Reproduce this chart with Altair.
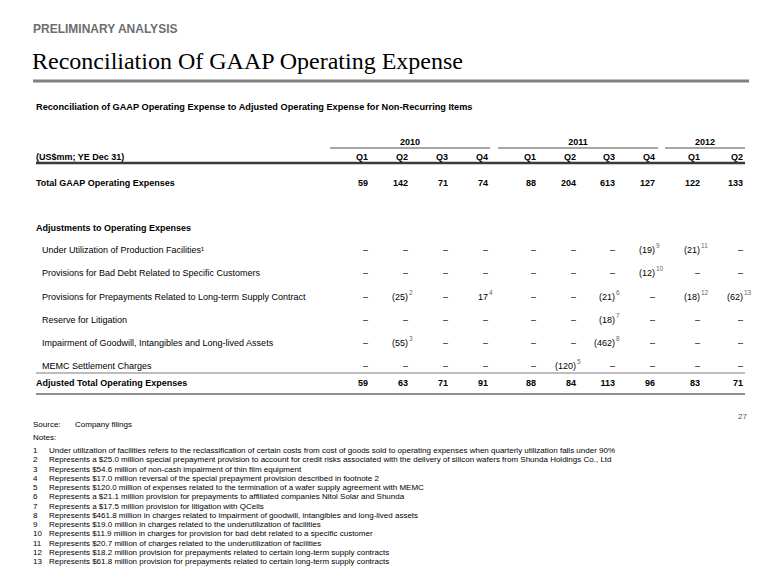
import altair as alt
import pandas as pd

# ---------------- data ----------------
years = ["2010", "2011", "2012"]
quarters = ["Q1", "Q2", "Q3", "Q4", "Q1", "Q2", "Q3", "Q4", "Q1", "Q2"]
total_gaap = [59, 142, 71, 74, 88, 204, 613, 127, 122, 133]
adjusted_total = [59, 63, 71, 91, 88, 84, 113, 96, 83, 71]

adj_labels = [
    "Under Utilization of Production Facilities\u00b9",
    "Provisions for Bad Debt Related to Specific Customers",
    "Provisions for Prepayments Related to Long-term Supply Contract",
    "Reserve for Litigation",
    "Impairment of Goodwill, Intangibles and Long-lived Assets",
    "MEMC Settlement Charges",
]
# None = no adjustment (dash)
under_util = [None, None, None, None, None, None, None, -19, -21, None]
bad_debt = [None, None, None, None, None, None, None, -12, None, None]
prepayments = [None, -25, None, 17, None, None, -21, None, -18, -62]
litigation = [None, None, None, None, None, None, -18, None, None, None]
impairment = [None, -55, None, None, None, None, -462, None, None, None]
memc = [None, None, None, None, None, -120, None, None, None, None]
adj_values = [under_util, bad_debt, prepayments, litigation, impairment, memc]

under_util_notes = ["", "", "", "", "", "", "", "9", "11", ""]
bad_debt_notes = ["", "", "", "", "", "", "", "10", "", ""]
prepayments_notes = ["", "2", "", "4", "", "", "6", "", "12", "13"]
litigation_notes = ["", "", "", "", "", "", "7", "", "", ""]
impairment_notes = ["", "3", "", "", "", "", "8", "", "", ""]
memc_notes = ["", "", "", "", "", "5", "", "", "", ""]
adj_notes = [under_util_notes, bad_debt_notes, prepayments_notes,
             litigation_notes, impairment_notes, memc_notes]

notes = [
    "Under utilization of facilities refers to the reclassification of certain costs from cost of goods sold to operating expenses when quarterly utilization falls under 90%",
    "Represents a $25.0 million special prepayment provision to account for credit risks associated with the delivery of silicon wafers from Shunda Holdings Co., Ltd",
    "Represents $54.6 million of non-cash impairment of thin film equipment",
    "Represents $17.0 million reversal of the special prepayment provision described in footnote 2",
    "Represents $120.0 million of expenses related to the termination of a wafer supply agreement with MEMC",
    "Represents a $21.1 million provision for prepayments to affiliated companies Nitol Solar and Shunda",
    "Represents a $17.5 million provision for litigation with QCells",
    "Represents $461.8 million in charges related to impairment of goodwill, intangibles and long-lived assets",
    "Represents $19.0 million in charges related to the underutilization of facilities",
    "Represents $11.9 million in charges for provision for bad debt related to a specific customer",
    "Represents $20.7 million of charges related to the underutilization of facilities",
    "Represents $18.2 million provision for prepayments related to certain long-term supply contracts",
    "Represents $61.8 million provision for prepayments related to certain long-term supply contracts",
]

# ---------------- layout (page pixel grid) ----------------
W, H = 764, 569
col_right = [368, 408, 448, 488, 536, 576, 615, 655, 700, 743]
year_span = [(330, 490), (498, 658), (665, 745)]
y_year, y_q, y_total, y_adjhead = 142, 157, 183, 228
y_adj_rows = [250, 273, 297, 320, 343, 366]
y_adjusted = 383
SANS = "Liberation Sans"
TXT = "#000000"
NOTE_FS = 8.0


def fmt(v):
    if v is None:
        return "\u2013"
    return f"({-v})" if v < 0 else str(v)


bold_left, reg_left, bold_center, bold_right, reg_right, sup = [], [], [], [], [], []

bold_left += [
    dict(x=33, y=29, t="PRELIMINARY ANALYSIS", fs=12, c="#6e6e6e"),
    dict(x=36, y=107, t="Reconciliation of GAAP Operating Expense to Adjusted Operating Expense for Non-Recurring Items", fs=9.2, c=TXT),
    dict(x=36, y=y_q, t="(US$mm; YE Dec 31)", fs=9, c=TXT),
    dict(x=36, y=y_total, t="Total GAAP Operating Expenses", fs=9, c=TXT),
    dict(x=36, y=y_adjhead, t="Adjustments to Operating Expenses", fs=9, c=TXT),
    dict(x=36, y=y_adjusted, t="Adjusted Total Operating Expenses", fs=9, c=TXT),
]
for (a, b), yr in zip(year_span, years):
    bold_center.append(dict(x=(a + b) / 2, y=y_year, t=yr, fs=9, c=TXT))
for xr, q, tg, at in zip(col_right, quarters, total_gaap, adjusted_total):
    bold_right.append(dict(x=xr, y=y_q, t=q, fs=9, c=TXT))
    bold_right.append(dict(x=xr, y=y_total, t=str(tg), fs=9, c=TXT))
    bold_right.append(dict(x=xr, y=y_adjusted, t=str(at), fs=9, c=TXT))
for lab, yy, vals, nts in zip(adj_labels, y_adj_rows, adj_values, adj_notes):
    reg_left.append(dict(x=42, y=yy, t=lab, fs=9, c=TXT))
    for xr, v, n in zip(col_right, vals, nts):
        reg_right.append(dict(x=xr, y=yy, t=fmt(v), fs=9, c=TXT))
        if n:
            sup.append(dict(x=xr + 1, y=yy - 4, t=n, fs=6.5, c="#666666"))

reg_left += [
    dict(x=33, y=425, t="Source:", fs=NOTE_FS, c=TXT),
    dict(x=75, y=425, t="Company filings", fs=NOTE_FS, c=TXT),
    dict(x=33, y=438, t="Notes:", fs=NOTE_FS, c=TXT),
]
for i, n in enumerate(notes):
    yy = 451 + 9.25 * i
    reg_left.append(dict(x=33, y=yy, t=str(i + 1), fs=NOTE_FS, c=TXT))
    reg_left.append(dict(x=49, y=yy, t=n, fs=NOTE_FS, c=TXT))
reg_left.append(dict(x=738, y=417, t="27", fs=8, c="#555555"))

rules = [
    dict(x=33, x2=749, y=81, w=3, c="#808080"),
    dict(x=36, x2=745, y=163, w=2.5, c="#3a3a3a"),
    dict(x=36, x2=745, y=373, w=1, c="#7a7a7a"),
    dict(x=36, x2=745, y=394, w=1.5, c="#6a6a6a"),
]
for a, b in year_span:
    rules.append(dict(x=a, x2=b, y=148, w=1.5, c="#8a8a8a"))

xs = alt.Scale(domain=[8, 8 + W], nice=False, zero=False)
ys = alt.Scale(domain=[8, 8 + H], nice=False, zero=False, reverse=True)


def text_layer(rows, align, weight, font=SANS, baseline="middle"):
    return alt.Chart(pd.DataFrame(rows)).mark_text(
        align=align, baseline=baseline, fontWeight=weight, font=font
    ).encode(
        x=alt.X("x:Q", scale=xs, axis=None),
        y=alt.Y("y:Q", scale=ys, axis=None),
        text="t:N",
        size=alt.Size("fs:Q", scale=None),
        color=alt.Color("c:N", scale=None),
    )


title_layer = text_layer(
    [dict(x=32, y=62, t="Reconciliation Of GAAP Operating Expense", fs=24, c=TXT)],
    "left", "normal", font="Liberation Serif",
)

rule_layer = alt.Chart(pd.DataFrame(rules)).mark_rule().encode(
    x=alt.X("x:Q", scale=xs, axis=None),
    x2="x2:Q",
    y=alt.Y("y:Q", scale=ys, axis=None),
    strokeWidth=alt.StrokeWidth("w:Q", scale=None),
    color=alt.Color("c:N", scale=None),
)

chart = alt.layer(
    rule_layer,
    title_layer,
    text_layer(bold_left, "left", "bold"),
    text_layer(reg_left, "left", "normal"),
    text_layer(bold_center, "center", "bold"),
    text_layer(bold_right, "right", "bold"),
    text_layer(reg_right, "right", "normal"),
    text_layer(sup, "left", "normal"),
).properties(
    width=W, height=H, padding=0, background="white"
).configure_view(stroke=None)

chart.save("out.html", embed_options={"renderer": "svg", "actions": False})
